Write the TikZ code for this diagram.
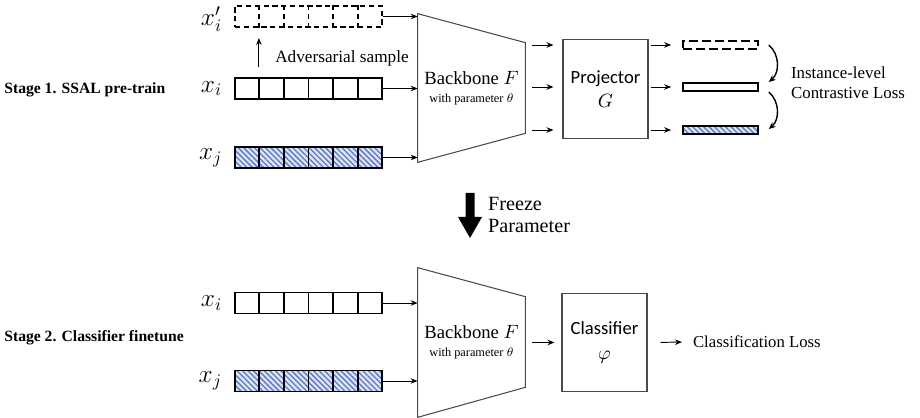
\documentclass[tikz,border=0pt]{standalone}
\usepackage{fontspec}
\setmainfont{Liberation Serif}
\newfontfamily\boxfont{Carlito}
\usepackage{tikz}
\usetikzlibrary{arrows.meta, positioning, calc, patterns.meta}
\definecolor{hatchA}{HTML}{5B78C2}
\definecolor{hatchB}{HTML}{DCE4F6}
\definecolor{edgeA}{HTML}{4A4A4A}
\tikzset{
  vec/.style={draw, line width=1.1pt, minimum width=2.94cm, minimum height=0.42cm, inner sep=0pt},
  vecadv/.style={vec, dash pattern=on 3pt off 2pt},
  hatched/.style={
    pattern={Lines[angle=-45, distance=2.2pt, line width=0.75pt]},
    pattern color=hatchA, preaction={fill=hatchB}
  },
  bar/.style={draw, line width=0.9pt, minimum width=1.5cm, minimum height=0.16cm, inner sep=0pt},
  lbl/.style={font=\fontsize{14.5}{15}\selectfont, inner sep=1pt},
  body/.style={
    minimum width=2.14cm, inner sep=0pt, align=center,
    font=\fontsize{10.6}{12}\selectfont
  },
  head/.style={
    draw=edgeA, line width=0.6pt, minimum width=1.7cm, minimum height=1.97cm,
    align=center, font=\boxfont\fontsize{10.6}{14}\selectfont
  },
  txt/.style={font=\fontsize{9.6}{11.4}\selectfont, align=left, inner sep=1pt},
  stage/.style={font=\bfseries\fontsize{8.9}{11}\selectfont, anchor=west, inner sep=0pt},
  arrow/.style={-{Stealth[length=1.4mm, width=1.1mm]}, line width=0.55pt},
  bracearrow/.style={-{Stealth[length=1.4mm, width=1.2mm]}, line width=0.8pt}
}
% separators of a six-cell input row
\newcommand{\cells}[2]{%
  \foreach \k in {1,...,5}
    \draw[#2] ($(#1.north west)!\k/6!(#1.north east)$) -- ($(#1.south west)!\k/6!(#1.south east)$);}

\begin{document}
\begin{tikzpicture}[x=0.02cm, y=-0.02cm]
  \useasboundingbox (0,0) rectangle (920,418);

  % ---- stage 1: pre-training ----
  \node[stage] (s1) at (4,90) {Stage 1. SSAL pre-train};

  \node[vecadv] (xp) at (308.5,16.5) {};
  \node[vec] (xa) at (308.5,88.5) {};
  \node[vec, hatched] (xb) at (308.5,157.5) {};
  \cells{xp}{line width=1.1pt, dash pattern=on 3pt off 2pt}
  \cells{xa}{line width=1.1pt}
  \cells{xb}{line width=1.1pt}

  \node[lbl, left=0.2cm of xp, yshift=-1.5pt] (lp) {$x_i'$};
  \node[lbl, left=0.2cm of xa] (la) {$x_i$};
  \node[lbl, left=0.2cm of xb] (lb) {$x_j$};

  \draw[arrow] ($(xa.north west)!1/6!(xa.north east)+(0,-10)$)
    -- ($(xp.south west)!1/6!(xp.south east)+(0,10)$);
  \node[txt, font=\fontsize{9.8}{12}\selectfont] (adv) at (342,58) {Adversarial sample};

  \node[body, minimum height=2.96cm] (bb1) at (471.5,88)
    {Backbone $F$\\[-2pt]{\fontsize{7}{8}\selectfont with parameter $\theta$}};
  \draw[draw=edgeA, line width=0.6pt] (bb1.north west) -- ($(bb1.north east)+(0,29)$)
    -- ($(bb1.south east)+(0,-29)$) -- (bb1.south west) -- cycle;
  \foreach \r in {xp,xa,xb}
    \draw[arrow] (\r.east) -- (\r.east -| bb1.west);

  \node[head] (pj) at (605.5,89) {Projector\\$G$};

  \node[bar, dash pattern=on 5pt off 2.4pt] (zp) at (720.5,45) {};
  \node[bar] (za) at (720.5,87) {};
  \node[bar, hatched] (zb) at (720.5,130) {};
  \foreach \z in {zp,za,zb} {
    \draw[arrow, shorten <=0.14cm, shorten >=0.18cm] (bb1.east |- \z) -- (pj.west |- \z);
    \draw[arrow, shorten <=0.04cm, shorten >=0.22cm] (pj.east |- \z) -- (\z.west);
  }
  \draw[bracearrow] ([shift={(10,0)}]zp.east) to[bend left=50] ([shift={(10,-5)}]za.east);
  \draw[bracearrow] ([shift={(10,5)}]za.east) to[bend left=50] ([shift={(10,-1)}]zb.east);
  \node[txt, anchor=west] (cl) at (789,83) {Instance-level\\Contrastive Loss};

  % ---- freeze ----
  \coordinate (fz) at (470,193);
  \fill ($(fz)+(-4.5,0)$) -- ($(fz)+(4.5,0)$) -- ($(fz)+(4.5,24)$) -- ($(fz)+(12,24)$)
    -- ($(fz)+(0,45)$) -- ($(fz)+(-12,24)$) -- ($(fz)+(-4.5,24)$) -- cycle;
  \node[txt, anchor=west, font=\fontsize{11.5}{13}\selectfont] (fr) at (486,215) {Freeze\\Parameter};

  % ---- stage 2: finetuning ----
  \node[stage] (s2) at (4,338) {Stage 2. Classifier finetune};

  \node[vec] (xc) at (308.5,303) {};
  \node[vec, hatched] (xd) at (308.5,381) {};
  \cells{xc}{line width=1.1pt}
  \cells{xd}{line width=1.1pt}
  \node[lbl, left=0.2cm of xc] (lc) {$x_i$};
  \node[lbl, left=0.2cm of xd] (ld) {$x_j$};

  \node[body, minimum height=2.98cm] (bb2) at (471.5,342.5)
    {Backbone $F$\\[-2pt]{\fontsize{7}{8}\selectfont with parameter $\theta$}};
  \draw[draw=edgeA, line width=0.6pt] (bb2.north west) -- ($(bb2.north east)+(0,29)$)
    -- ($(bb2.south east)+(0,-30)$) -- (bb2.south west) -- cycle;
  \foreach \r in {xc,xd}
    \draw[arrow] (\r.east) -- (\r.east -| bb2.west);

  \node[head] (cls) at (604.5,342.5) {Classifier\\$\varphi$};
  \draw[arrow, shorten <=0.14cm, shorten >=0.14cm] (bb2.east) -- (cls.west);
  \node[txt, anchor=west, font=\fontsize{9.5}{12}\selectfont] (loss2) at (691,342) {Classification Loss};
  \draw[arrow, shorten <=0.26cm, shorten >=0.18cm] (cls.east) -- (loss2.west);
\end{tikzpicture}
\end{document}
